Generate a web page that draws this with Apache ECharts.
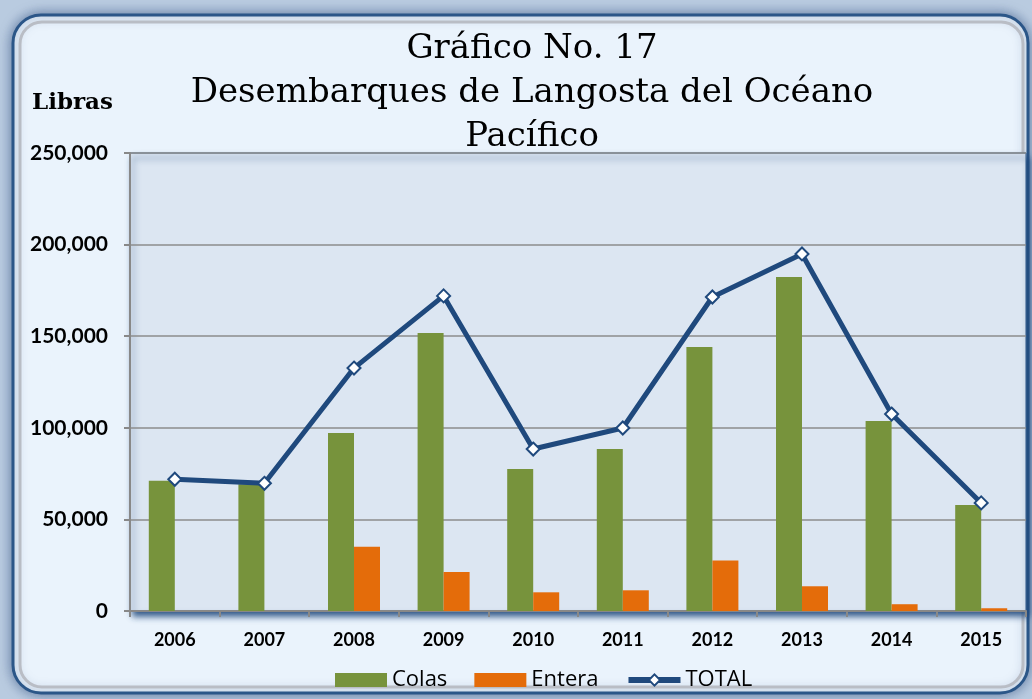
<!DOCTYPE html>
<html>
<head>
<meta charset="utf-8">
<script src="https://cdn.jsdelivr.net/npm/echarts@6/dist/echarts.min.js"></script>
<style>
  html, body { margin: 0; padding: 0; background: #b9cbe0; }
  #chart { width: 1032px; height: 699px; }
</style>
</head>
<body>
<div id="chart"></div>
<script>
const years = ['2006', '2007', '2008', '2009', '2010', '2011', '2012', '2013', '2014', '2015'];
const colas = [71100, 69200, 97200, 151700, 77500, 88400, 144100, 182300, 103700, 57900];
const entera = [0, 0, 35100, 21300, 10200, 11300, 27600, 13500, 3700, 1500];
const total = [71900, 69700, 132600, 172000, 88400, 99900, 171400, 194900, 107500, 59000];
const titleLines = ['Gráfico No. 17', 'Desembarques de Langosta del Océano', 'Pacífico'];

document.addEventListener('DOMContentLoaded', () => {
  const chart = echarts.init(document.getElementById('chart'));

  const option = {
    backgroundColor: 'transparent',
    animation: false,
    graphic: [
      {
        type: 'rect',
        z: -10,
        shape: { x: 13, y: 15, width: 1015, height: 678, r: 28 },
        style: {
          fill: '#eaf3fc',
          stroke: '#2b5688',
          lineWidth: 3,
          shadowBlur: 12,
          shadowColor: 'rgba(40,70,120,0.6)'
        }
      },
      {
        type: 'rect',
        z: -9,
        shape: { x: 20, y: 22, width: 1003, height: 665, r: 22 },
        style: { fill: 'none', stroke: '#b9bdc5', lineWidth: 3 }
      },
      {
        type: 'text',
        left: 32,
        top: 92,
        style: {
          text: 'Libras',
          font: 'bold 23px "DejaVu Serif"',
          fill: '#000'
        }
      }
    ],
    title: {
      text: titleLines.join('\n'),
      left: 527,
      textAlign: 'center',
      top: 22,
      textStyle: {
        fontFamily: '"DejaVu Serif"',
        fontWeight: 'normal',
        fontSize: 34,
        lineHeight: 44,
        color: '#000'
      }
    },
    legend: {
      left: 330,
      top: 664,
      itemWidth: 52,
      itemHeight: 14,
      itemGap: 27,
      textStyle: { fontFamily: '"Open Sans"', fontSize: 22, color: '#000' },
      data: [
        { name: 'Colas', icon: 'rect' },
        { name: 'Entera', icon: 'rect' },
        { name: 'TOTAL', lineStyle: { width: 6 }, itemStyle: { borderWidth: 2 } }
      ]
    },
    grid: {
      left: 130,
      top: 153,
      right: 6,
      bottom: 88,
      show: true,
      backgroundColor: '#dce6f2',
      borderColor: '#2b5688',
      borderWidth: 1,
      shadowColor: 'rgba(31,73,125,0.9)',
      shadowBlur: 6,
      shadowOffsetX: 3,
      shadowOffsetY: 5
    },
    xAxis: {
      type: 'category',
      data: years,
      axisLine: { lineStyle: { color: '#888', width: 2 } },
      axisTick: { show: true, length: 6, lineStyle: { color: '#888', width: 2 } },
      axisLabel: {
        margin: 20,
        fontFamily: 'Lato',
        fontWeight: 'bold',
        fontSize: 18,
        color: '#000'
      }
    },
    yAxis: {
      type: 'value',
      min: 0,
      max: 250000,
      interval: 50000,
      axisLine: { show: true, lineStyle: { color: '#888', width: 2 } },
      axisTick: { show: true, length: 6, lineStyle: { color: '#888', width: 2 } },
      splitLine: { lineStyle: { color: '#8c8c8c', width: 1.5 } },
      axisLabel: {
        margin: 22,
        fontFamily: 'Lato',
        fontWeight: 'bold',
        fontSize: 21,
        color: '#000',
        formatter: (v) => v.toLocaleString('en-US')
      }
    },
    series: [
      {
        name: 'Colas',
        type: 'bar',
        data: colas,
        barWidth: 26,
        barGap: '0%',
        itemStyle: { color: '#77933c' }
      },
      {
        name: 'Entera',
        type: 'bar',
        data: entera,
        barWidth: 26,
        itemStyle: { color: '#e46c0a' }
      },
      {
        name: 'TOTAL',
        type: 'line',
        data: total,
        symbol: 'diamond',
        symbolSize: 13,
        lineStyle: { color: '#1f497d', width: 5 },
        itemStyle: { color: '#ffffff', borderColor: '#1f497d', borderWidth: 2 },
        z: 5
      }
    ]
  };

  chart.setOption(option);
});
</script>
</body>
</html>
